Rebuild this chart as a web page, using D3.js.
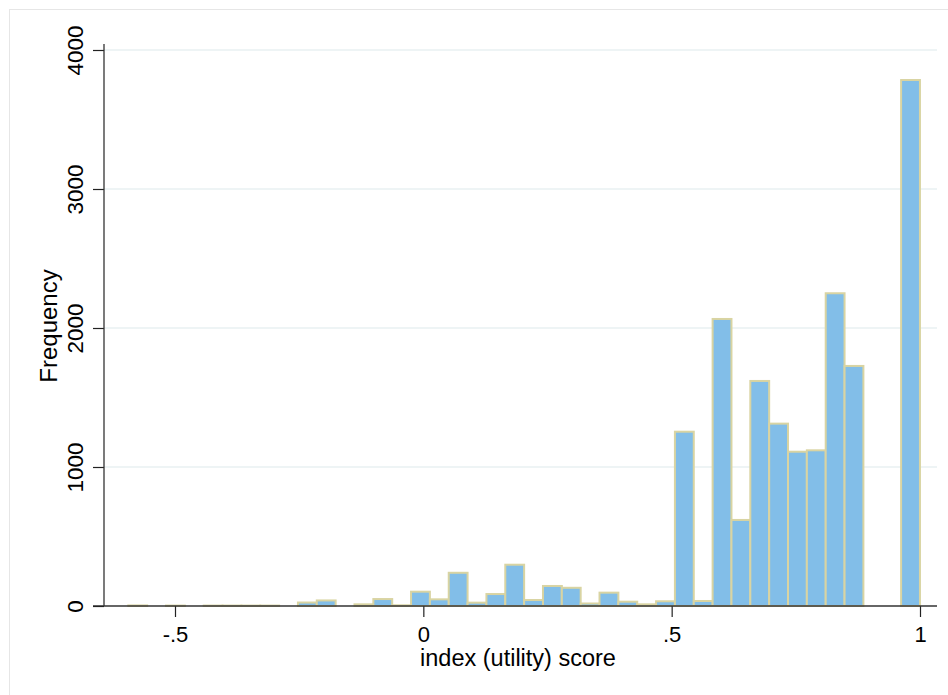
<!DOCTYPE html>
<html>
<head>
<meta charset="utf-8">
<script src="https://cdn.jsdelivr.net/npm/d3@7"></script>
<style>
  html, body { margin: 0; padding: 0; background: #fff; }
  svg { display: block; font-family: "Liberation Sans", Arial, Helvetica, sans-serif; }
</style>
</head>
<body>
<svg id="chart" width="948" height="695"></svg>
<script>
// Histogram of index (utility) scores: 42 equal-width bins
const binStart = -0.594;
const binWidth = 0.03795;
const counts = [
  4, 0, 3, 0, 3, 3, 3, 3, 0, 25,
  40, 0, 12, 50, 5, 103, 48, 239, 24, 86,
  297, 43, 144, 131, 18, 96, 31, 12, 34, 1254,
  36, 2065, 619, 1619, 1312, 1110, 1120, 2250, 1727, 0,
  0, 3784
];

const xTickValues = [-0.5, 0, 0.5, 1];
const xTickLabels = ["-.5", "0", ".5", "1"];
const yTickValues = [0, 1000, 2000, 3000, 4000];
const yTickLabels = ["0", "1000", "2000", "3000", "4000"];
const xTitle = "index (utility) score";
const yTitle = "Frequency";

const bins = counts.map((c, i) => ({
  x0: binStart + i * binWidth,
  x1: binStart + (i + 1) * binWidth,
  count: c
}));

const svg = d3.select("#chart");

// plot region edges
const plot = { left: 104, right: 937, top: 44, bottom: 606 };

const x = d3.scaleLinear().domain([-0.5, 1]).range([175, 920]);
const y = d3.scaleLinear().domain([0, 4000]).range([606, 50]);

// faint outer frame of the graph region
svg.append("rect")
  .attr("x", 9.5).attr("y", 9.5)
  .attr("width", 1000).attr("height", 1000)
  .attr("fill", "none")
  .attr("stroke", "#e6e6e6")
  .attr("stroke-width", 1);

// horizontal gridlines
svg.append("g")
  .selectAll("line")
  .data(yTickValues.filter(v => v > 0))
  .join("line")
  .attr("x1", plot.left).attr("x2", plot.right)
  .attr("y1", d => y(d)).attr("y2", d => y(d))
  .attr("stroke", "#e8f0f2")
  .attr("stroke-width", 1.5);

// bars
svg.append("g")
  .selectAll("rect")
  .data(bins.filter(b => b.count > 0))
  .join("rect")
  .attr("x", d => x(d.x0))
  .attr("width", d => x(d.x1) - x(d.x0))
  .attr("y", d => y(d.count))
  .attr("height", d => y(0) - y(d.count))
  .attr("fill", "#82bee8")
  .attr("stroke", "#d9d4a2")
  .attr("stroke-width", 2);

// x axis
const xAxis = d3.axisBottom(x)
  .tickValues(xTickValues)
  .tickFormat((d, i) => xTickLabels[i])
  .tickSize(11);

const gx = svg.append("g")
  .attr("transform", `translate(0,${plot.bottom})`)
  .call(xAxis);
gx.select(".domain").remove();
gx.selectAll(".tick line").attr("stroke", "#222").attr("stroke-width", 1.2);
gx.selectAll(".tick text")
  .attr("font-size", 22)
  .attr("font-family", "Liberation Sans, Arial, sans-serif")
  .attr("fill", "#000")
  .attr("dy", null)
  .attr("y", 36);

svg.append("line")
  .attr("x1", plot.left - 11).attr("x2", plot.right)
  .attr("y1", plot.bottom).attr("y2", plot.bottom)
  .attr("stroke", "#333").attr("stroke-width", 1.3);

// y axis
const yAxis = d3.axisLeft(y)
  .tickValues(yTickValues)
  .tickFormat((d, i) => yTickLabels[i])
  .tickSize(11);

const gy = svg.append("g")
  .attr("transform", `translate(${plot.left},0)`)
  .call(yAxis);
gy.select(".domain").remove();
gy.selectAll(".tick line").attr("stroke", "#222").attr("stroke-width", 1.2);
gy.selectAll(".tick text")
  .attr("font-size", 22.5)
  .attr("font-family", "Liberation Sans, Arial, sans-serif")
  .attr("fill", "#000")
  .attr("x", null).attr("dy", null)
  .attr("text-anchor", "middle")
  .attr("transform", "translate(-21,0) rotate(-90)");

svg.append("line")
  .attr("x1", plot.left).attr("x2", plot.left)
  .attr("y1", plot.top).attr("y2", plot.bottom)
  .attr("stroke", "#333").attr("stroke-width", 1.3);

// axis titles
svg.append("text")
  .attr("x", 518)
  .attr("y", 666)
  .attr("text-anchor", "middle")
  .attr("font-size", 23.5)
  .attr("fill", "#000")
  .text(xTitle);

svg.append("text")
  .attr("transform", `translate(57,${(plot.top + plot.bottom) / 2 + 1}) rotate(-90)`)
  .attr("text-anchor", "middle")
  .attr("font-size", 24)
  .attr("fill", "#000")
  .text(yTitle);
</script>
</body>
</html>
